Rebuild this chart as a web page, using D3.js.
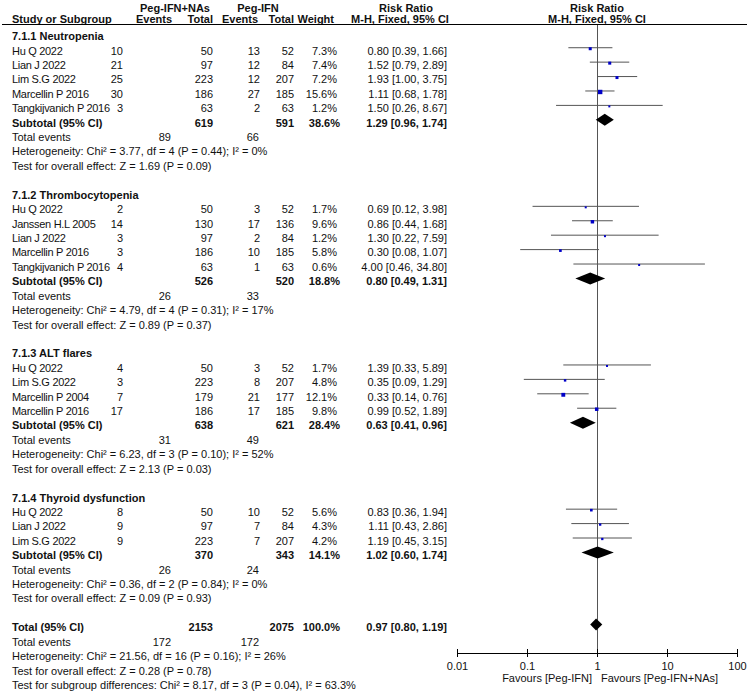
<!DOCTYPE html>
<html>
<head>
<meta charset="utf-8">
<script src="https://cdn.jsdelivr.net/npm/d3@7"></script>
<style>
  body { margin: 0; background: #fff; }
  text { font-family: "Liberation Sans", Arial, sans-serif; font-size: 11px; fill: #111; }
  .b { font-weight: bold; }
  .name { letter-spacing: -0.3px; }
</style>
</head>
<body>
<div id="chart"></div>
<script>
// subgroups
var groupLabels = ['7.1.1 Neutropenia', '7.1.2 Thrombocytopenia', '7.1.3 ALT flares', '7.1.4 Thyroid dysfunction'];

// studies
var studyGroup = [0, 0, 0, 0, 0, 1, 1, 1, 1, 1, 2, 2, 2, 2, 3, 3, 3];
var studyNames = ['Hu Q 2022', 'Lian J 2022', 'Lim S.G 2022', 'Marcellin P 2016', 'Tangkijvanich P 2016',
    'Hu Q 2022', 'Janssen H.L 2005', 'Lian J 2022', 'Marcellin P 2016', 'Tangkijvanich P 2016',
    'Hu Q 2022', 'Lim S.G 2022', 'Marcellin P 2004', 'Marcellin P 2016',
    'Hu Q 2022', 'Lian J 2022', 'Lim S.G 2022'];
var expEvents = [10, 21, 25, 30, 3, 2, 14, 3, 3, 4, 4, 3, 7, 17, 8, 9, 9];
var expTotal = [50, 97, 223, 186, 63, 50, 130, 97, 186, 63, 50, 223, 179, 186, 50, 97, 223];
var ctlEvents = [13, 12, 12, 27, 2, 3, 17, 2, 10, 1, 3, 8, 21, 17, 10, 7, 7];
var ctlTotal = [52, 84, 207, 185, 63, 52, 136, 84, 185, 63, 52, 207, 177, 185, 52, 84, 207];
var weights = [7.3, 7.4, 7.2, 15.6, 1.2, 1.7, 9.6, 1.2, 5.8, 0.6, 1.7, 4.8, 12.1, 9.8, 5.6, 4.3, 4.2];
var rr = [0.80, 1.52, 1.93, 1.11, 1.50, 0.69, 0.86, 1.30, 0.30, 4.00, 1.39, 0.35, 0.33, 0.99, 0.83, 1.11, 1.19];
var rrLow = [0.39, 0.79, 1.00, 0.68, 0.26, 0.12, 0.44, 0.22, 0.08, 0.46, 0.33, 0.09, 0.14, 0.52, 0.36, 0.43, 0.45];
var rrHigh = [1.66, 2.89, 3.75, 1.78, 8.67, 3.98, 1.68, 7.59, 1.07, 34.80, 5.89, 1.29, 0.76, 1.89, 1.94, 2.86, 3.15];

// subtotals
var subExpTotal = [619, 526, 638, 370];
var subCtlTotal = [591, 520, 621, 343];
var subWeight = [38.6, 18.8, 28.4, 14.1];
var subRR = [1.29, 0.80, 0.63, 1.02];
var subLow = [0.96, 0.49, 0.41, 0.60];
var subHigh = [1.74, 1.31, 0.96, 1.74];
var subExpEvents = [89, 26, 31, 26];
var subCtlEvents = [66, 33, 49, 24];
var subHet = ['Heterogeneity: Chi² = 3.77, df = 4 (P = 0.44); I² = 0%',
    'Heterogeneity: Chi² = 4.79, df = 4 (P = 0.31); I² = 17%',
    'Heterogeneity: Chi² = 6.23, df = 3 (P = 0.10); I² = 52%',
    'Heterogeneity: Chi² = 0.36, df = 2 (P = 0.84); I² = 0%'];
var subZ = ['Test for overall effect: Z = 1.69 (P = 0.09)',
    'Test for overall effect: Z = 0.89 (P = 0.37)',
    'Test for overall effect: Z = 2.13 (P = 0.03)',
    'Test for overall effect: Z = 0.09 (P = 0.93)'];

// overall
var totExpTotal = 2153, totCtlTotal = 2075, totWeight = 100.0;
var totRR = 0.97, totLow = 0.80, totHigh = 1.19;
var totExpEvents = 172, totCtlEvents = 172;
var totNotes = ['Heterogeneity: Chi² = 21.56, df = 16 (P = 0.16); I² = 26%',
    'Test for overall effect: Z = 0.28 (P = 0.78)',
    'Test for subgroup differences: Chi² = 8.17, df = 3 (P = 0.04), I² = 63.3%'];

// axis
var tickValues = [0.01, 0.1, 1, 10, 100];
var tickLabels = ['0.01', '0.1', '1', '10', '100'];

var w = 750, h = 695;
var svg = d3.select('#chart').append('svg')
    .attr('width', w)
    .attr('height', h);

var f2 = d3.format('.2f'), f1 = d3.format('.1f');
function ci(a, l, u) { return f2(a) + ' [' + f2(l) + ', ' + f2(u) + ']'; }

// build the rows
var rows = [];
groupLabels.forEach(function (g, gi) {
    rows.push({type: 'group', label: g});
    studyNames.forEach(function (s, si) {
        if (studyGroup[si] === gi) rows.push({type: 'study', idx: si});
    });
    rows.push({type: 'sub', idx: gi});
    rows.push({type: 'events', e: subExpEvents[gi], c: subCtlEvents[gi]});
    rows.push({type: 'note', label: subHet[gi]});
    rows.push({type: 'note', label: subZ[gi]});
    rows.push({type: 'blank'});
});
rows.push({type: 'total'});
rows.push({type: 'events', e: totExpEvents, c: totCtlEvents});
totNotes.forEach(function (t) { rows.push({type: 'note', label: t}); });

var yscale = d3.scaleLinear().domain([0, 45]).range([33.3, 33.3 + 45 * 14.42]);
var xscale = d3.scaleLog().domain([0.01, 100]).range([457, 737]);
var size = d3.scaleSqrt().domain([0, 15.6]).range([0, 4.4]);

var axisY = 653;

// column positions (right edges)
var cExpEv = 123, cExpTot = 213, cCtlEv = 260, cCtlTot = 294, cW = 337, cRR = 447;
var cTotExpEv = 171, cTotCtlEv = 259;

function txt(x, y, s, anchor, cls) {
    svg.append('text')
        .attr('x', x).attr('y', y)
        .attr('text-anchor', anchor || 'start')
        .attr('class', cls === true ? 'b' : (cls || null))
        .text(s);
}

// header
txt(175, 11.5, 'Peg-IFN+NAs', 'middle', true);
txt(258, 11.5, 'Peg-IFN', 'middle', true);
txt(406, 11.5, 'Risk Ratio', 'middle', true);
txt(597, 11.5, 'Risk Ratio', 'middle', true);
txt(12, 22.5, 'Study or Subgroup', 'start', true);
txt(172, 22.5, 'Events', 'end', true);
txt(213, 22.5, 'Total', 'end', true);
txt(258, 22.5, 'Events', 'end', true);
txt(294, 22.5, 'Total', 'end', true);
txt(334, 22.5, 'Weight', 'end', true);
txt(400, 22.5, 'M-H, Fixed, 95% CI', 'middle', true);
txt(597, 22.5, 'M-H, Fixed, 95% CI', 'middle', true);

svg.append('line')
    .attr('x1', 2).attr('x2', 747)
    .attr('y1', 24.5).attr('y2', 24.5)
    .attr('stroke', '#000').attr('stroke-width', 1);

// line of no effect
svg.append('line')
    .attr('x1', Math.round(xscale(1)) + 0.5).attr('x2', Math.round(xscale(1)) + 0.5)
    .attr('y1', 25).attr('y2', axisY)
    .attr('stroke', '#555').attr('stroke-width', 1);

function diamond(i, est, lo, hi) {
    var y = yscale(i);
    svg.append('path')
        .attr('d', 'M' + xscale(lo) + ',' + y + 'L' + xscale(est) + ',' + (y - 6) +
            'L' + xscale(hi) + ',' + y + 'L' + xscale(est) + ',' + (y + 6) + 'Z')
        .attr('fill', '#000');
}

rows.forEach(function (r, i) {
    var ty = yscale(i) + 6.8;
    var py = yscale(i);
    if (r.type === 'group') {
        txt(12, ty, r.label, 'start', true);
    } else if (r.type === 'study') {
        var k = r.idx;
        txt(12, ty, studyNames[k], 'start', 'name');
        txt(cExpEv, ty, expEvents[k], 'end');
        txt(cExpTot, ty, expTotal[k], 'end');
        txt(cCtlEv, ty, ctlEvents[k], 'end');
        txt(cCtlTot, ty, ctlTotal[k], 'end');
        txt(cW, ty, f1(weights[k]) + '%', 'end');
        txt(cRR, ty, ci(rr[k], rrLow[k], rrHigh[k]), 'end');
        svg.append('line')
            .attr('x1', xscale(rrLow[k])).attr('x2', xscale(rrHigh[k]))
            .attr('y1', py).attr('y2', py)
            .attr('stroke', '#555').attr('stroke-width', 1);
        var s = Math.max(2, size(weights[k]));
        svg.append('rect')
            .attr('x', xscale(rr[k]) - s / 2).attr('y', py + 1 - s / 2)
            .attr('width', s).attr('height', s)
            .attr('fill', '#0000c8');
    } else if (r.type === 'sub') {
        var g = r.idx;
        txt(12, ty, 'Subtotal (95% CI)', 'start', true);
        txt(cExpTot, ty, subExpTotal[g], 'end', true);
        txt(cCtlTot, ty, subCtlTotal[g], 'end', true);
        txt(cW + 3, ty, f1(subWeight[g]) + '%', 'end', true);
        txt(cRR, ty, ci(subRR[g], subLow[g], subHigh[g]), 'end', true);
        diamond(i, subRR[g], subLow[g], subHigh[g]);
    } else if (r.type === 'events') {
        txt(12, ty, 'Total events');
        txt(cTotExpEv, ty, r.e, 'end');
        txt(cTotCtlEv, ty, r.c, 'end');
    } else if (r.type === 'note') {
        txt(12, ty, r.label);
    } else if (r.type === 'total') {
        txt(12, ty, 'Total (95% CI)', 'start', true);
        txt(cExpTot, ty, totExpTotal, 'end', true);
        txt(cCtlTot, ty, totCtlTotal, 'end', true);
        txt(cW + 3, ty, f1(totWeight) + '%', 'end', true);
        txt(cRR, ty, ci(totRR, totLow, totHigh), 'end', true);
        diamond(i, totRR, totLow, totHigh);
    }
});

// bottom axis
var xAxis = d3.axisBottom()
    .scale(xscale)
    .tickValues(tickValues)
    .tickFormat(function (d, i) { return tickLabels[i]; })
    .tickSizeOuter(0);

var x_g = svg.append('g')
    .attr('class', 'xaxis')
    .attr('transform', 'translate(0,' + axisY + ')')
    .call(xAxis);
x_g.select('.domain').attr('stroke', '#000');
x_g.selectAll('.tick line').attr('y1', -4).attr('y2', 4).attr('stroke', '#000');
x_g.selectAll('.tick text')
    .attr('y', 9)
    .style('font-family', '"Liberation Sans", Arial, sans-serif')
    .style('font-size', '11px')
    .attr('fill', '#111');

txt(592, 682, 'Favours [Peg-IFN]', 'end');
txt(601, 682, 'Favours [Peg-IFN+NAs]', 'start');
</script>
</body>
</html>
